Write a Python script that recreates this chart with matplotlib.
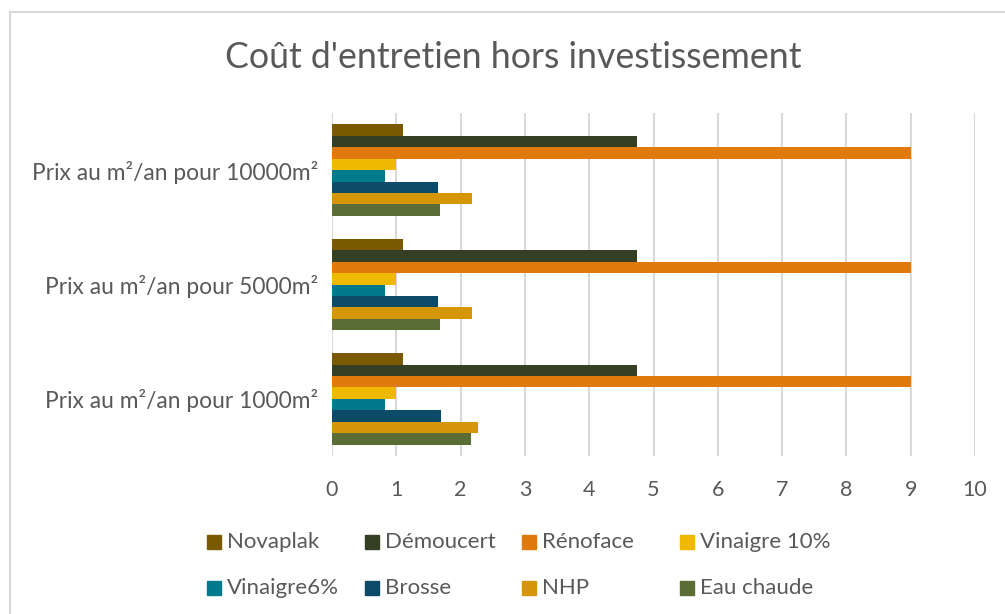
import matplotlib.pyplot as plt
import numpy as np
from matplotlib.patches import Rectangle

# data
categories = ['Prix au m²/an pour 1000m²', 'Prix au m²/an pour 5000m²', 'Prix au m²/an pour 10000m²']
series = ['Novaplak', 'Démoucert', 'Rénoface', 'Vinaigre 10%',
          'Vinaigre6%', 'Brosse', 'NHP', 'Eau chaude']
# values per series, order: 1000m², 5000m², 10000m²
novaplak = [1.10, 1.10, 1.10]
demoucert = [4.75, 4.75, 4.75]
renoface = [9.0, 9.0, 9.0]
vinaigre10 = [1.0, 1.0, 1.0]
vinaigre6 = [0.82, 0.82, 0.82]
brosse = [1.70, 1.65, 1.65]
nhp = [2.27, 2.18, 2.18]
eau_chaude = [2.16, 1.68, 1.68]
values = [novaplak, demoucert, renoface, vinaigre10, vinaigre6, brosse, nhp, eau_chaude]
colors = ['#7A5A00', '#353F23', '#E07A0D', '#EEB900',
          '#007A8C', '#0C4C68', '#D6960A', '#5A6D35']

plt.rcParams['font.family'] = ['Lato', 'DejaVu Sans']
txt = '#595959'

W, H = 1005, 614
fig = plt.figure(figsize=(W / 100, H / 100), dpi=100)

# outer chart border (light grey)
fig.add_artist(Rectangle((10 / W, -0.05), 1.1, 1 - 12 / H + 0.05, transform=fig.transFigure,
                         fill=False, edgecolor='#D9D9D9', linewidth=1.5))

ax = fig.add_axes([332 / W, 1 - 456 / H, (975 - 332) / W, (456 - 113) / H])

y = np.arange(len(categories))
bh = 0.1
for i, (name, vals, c) in enumerate(zip(series, values, colors)):
    ax.barh(y + (3.5 - i) * bh, vals, height=bh, color=c, label=name, zorder=3)

ax.set_xlim(0, 10)
ax.set_ylim(-0.5, 2.5)
ax.set_xticks(np.arange(0, 11, 1))
ax.set_yticks(y)
ax.set_yticklabels(categories)
ax.tick_params(axis='x', length=0, pad=17, labelsize=15.5, labelcolor=txt)
ax.tick_params(axis='y', length=0, pad=10, labelsize=16.4, labelcolor=txt)
ax.grid(axis='x', color='#D9D9D9', linewidth=1.5, zorder=0)
for s in ax.spines.values():
    s.set_visible(False)

fig.text(513 / W, 1 - 57 / H, "Coût d'entretien hors investissement", fontsize=25.7,
         color=txt, ha='center', va='center')

# legend, laid out like the original (4 equal columns, 2 rows)
for i, (name, c) in enumerate(zip(series, colors)):
    col, row = i % 4, i // 4
    x0 = 207 + col * 157.6
    y0 = 542 + row * 46
    fig.add_artist(Rectangle((x0 / W, 1 - (y0 + 7) / H), 14 / W, 14 / H,
                             transform=fig.transFigure, color=c))
    fig.text((x0 + 20) / W, 1 - y0 / H, name, fontsize=16, color=txt,
             ha='left', va='center')

fig.savefig('out.png', dpi=100)
